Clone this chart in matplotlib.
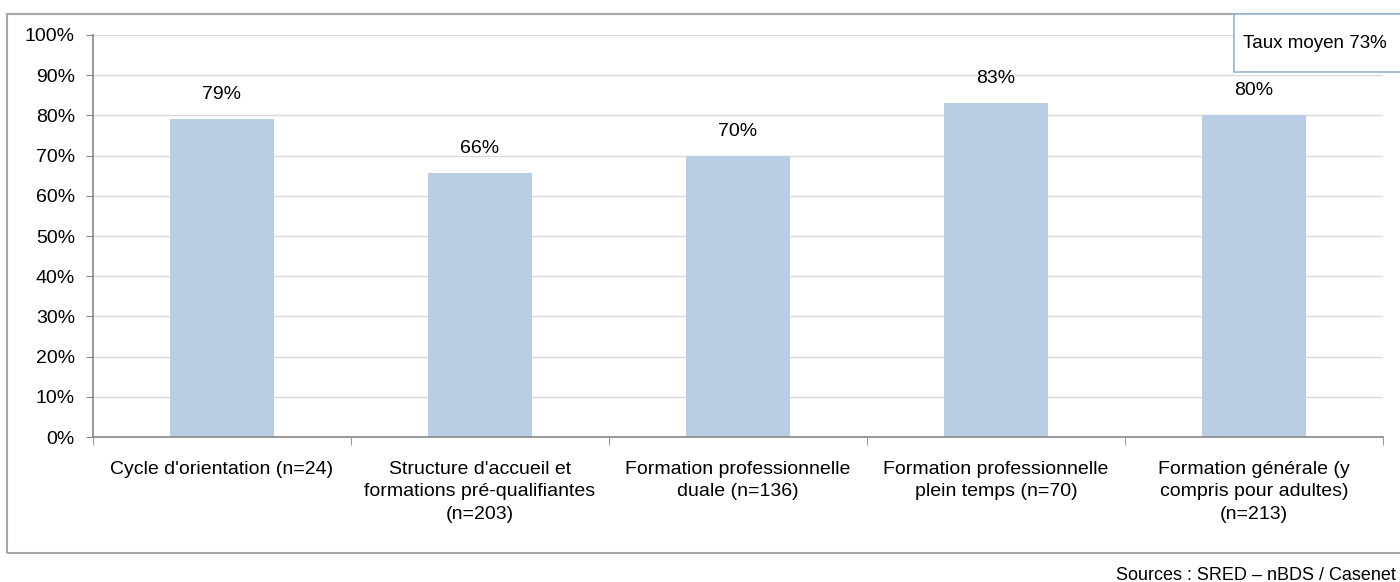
import matplotlib.pyplot as plt
from matplotlib.patches import Rectangle
import numpy as np

plt.rcParams['font.family'] = ['Liberation Sans', 'DejaVu Sans']

categories = ["Cycle d'orientation (n=24)",
              "Structure d'accueil et\nformations pré-qualifiantes\n(n=203)",
              "Formation professionnelle\nduale (n=136)",
              "Formation professionnelle\nplein temps (n=70)",
              "Formation générale (y\ncompris pour adultes)\n(n=213)"]
taux = [0.792, 0.657, 0.700, 0.830, 0.800]
taux_moyen = 0.73

fig = plt.figure(figsize=(14, 5.82), dpi=100)
ax = fig.add_axes([0.0664, 0.2491, 0.9215, 0.6908])

x = np.arange(len(categories))
ax.bar(x, taux, width=0.4, color='#b9cde5', zorder=2)
for xi, v in zip(x, taux):
    ax.text(xi, v + 0.04, f"{v*100:.0f}%", ha='center', va='bottom', fontsize=14)

ax.set_xlim(-0.5, len(categories) - 0.5)
ax.set_ylim(0, 1)
ax.set_yticks(np.arange(0, 1.01, 0.1))
ax.set_yticklabels([f"{int(round(t*100))}%" for t in np.arange(0, 1.01, 0.1)], fontsize=14)
ax.set_xticks(x)
ax.set_xticklabels(categories, fontsize=14)
for lab in ax.get_xticklabels():
    lab.set_linespacing(1.45)
ax.set_xticks(np.arange(-0.5, len(categories), 1), minor=True)
ax.tick_params(axis='x', which='major', length=0, pad=17)
ax.tick_params(axis='x', which='minor', length=6, color='#888888')
ax.tick_params(axis='y', length=5, color='#888888', pad=8)
ax.grid(axis='y', color='#d9d9d9', linewidth=1, zorder=0)
for s in ['top', 'right']:
    ax.spines[s].set_visible(False)
for s in ['left', 'bottom']:
    ax.spines[s].set_color('#888888')
    ax.spines[s].set_linewidth(1.2)

# cadre extérieur
fig.patches.append(Rectangle((7/1400, 1 - 553/582), 1.02, (553 - 14)/582,
                             transform=fig.transFigure, fill=False,
                             edgecolor='#a6a6a6', linewidth=1.5))
# encadré taux moyen
fig.patches.append(Rectangle((1234/1400, 1 - 72/582), 0.2, 58/582,
                             transform=fig.transFigure, facecolor='white',
                             edgecolor='#95b3d7', linewidth=1.2, zorder=5))
fig.text(1243/1400, 1 - 43/582, f"Taux moyen {taux_moyen*100:.0f}%",
         ha='left', va='center', fontsize=13.5, zorder=6)

fig.text(1396/1400, 1 - 575/582, "Sources : SRED – nBDS / Casenet",
         ha='right', va='center', fontsize=13)

fig.savefig('out.png', dpi=100)
